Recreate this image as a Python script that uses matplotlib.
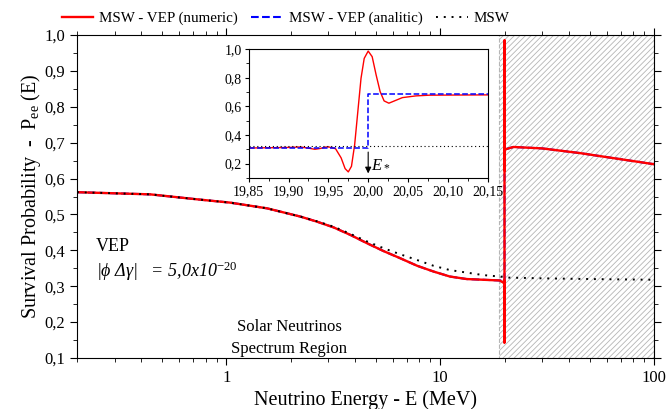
import numpy as np
import matplotlib
matplotlib.use("Agg")
import matplotlib.pyplot as plt
from matplotlib.ticker import FuncFormatter, MultipleLocator, FixedLocator, LogLocator

plt.rcParams['font.family'] = ['Liberation Serif', 'DejaVu Serif']
plt.rcParams['mathtext.fontset'] = 'custom'
plt.rcParams['mathtext.rm'] = 'Liberation Serif'
plt.rcParams['mathtext.it'] = 'Liberation Serif:italic'
plt.rcParams['hatch.linewidth'] = 0.6

# --- main panel data (E in MeV) ---
low_E = [0.2, 0.44, 0.76, 1.04, 1.55, 2.22, 2.65, 3.17, 3.8, 4.54, 5.43, 6.5, 7.8,
         9.3, 11.1, 13.3, 15.9, 19.0]
low_pee = [0.562, 0.556, 0.541, 0.533, 0.517, 0.494, 0.480, 0.464, 0.443, 0.420, 0.398,
           0.378, 0.357, 0.341, 0.327, 0.320, 0.318, 0.316]

high_E = [20.3, 22.0, 30.0, 45.0, 64.5, 100.0]
high_pee = [0.682, 0.688, 0.684, 0.671, 0.657, 0.640]

msw_E = [0.2, 0.44, 0.76, 1.04, 1.55, 2.22, 2.65, 3.17, 3.8, 4.54, 5.43, 6.5, 7.8,
         9.3, 11.1, 13.3, 15.9, 19.0, 21.0, 30.0, 50.0, 100.0]
msw_pee = [0.562, 0.556, 0.541, 0.533, 0.517, 0.494, 0.481, 0.466, 0.446, 0.425, 0.406,
           0.389, 0.373, 0.357, 0.345, 0.338, 0.331, 0.327, 0.324, 0.322, 0.320, 0.318]

# --- inset data, around the resonance E* = 20 MeV ---
ins_E = [19.85, 19.88, 19.90, 19.915, 19.925, 19.933, 19.94, 19.947, 19.951, 19.959,
         19.966, 19.971, 19.975, 19.979, 19.983, 19.987, 19.991, 19.995, 20.000, 20.005,
         20.010, 20.015, 20.020, 20.026, 20.033, 20.043, 20.060, 20.077, 20.11, 20.15]
ins_pee = [0.309, 0.311, 0.313, 0.316, 0.308, 0.300, 0.306, 0.316, 0.316, 0.304,
           0.240, 0.165, 0.142, 0.181, 0.332, 0.564, 0.796, 0.935, 0.986, 0.947,
           0.819, 0.703, 0.638, 0.622, 0.638, 0.661, 0.673, 0.678, 0.679, 0.680]

ana_E = [19.85, 20.0, 20.0, 20.15]
ana_pee = [0.309, 0.309, 0.685, 0.685]
msw_flat = 0.326
E_star = 20.0
region_E = (18.8, 100.0)

comma = FuncFormatter(lambda v, _: f'{v:.1f}'.replace('.', ','))
comma2 = FuncFormatter(lambda v, _: f'{v:.2f}'.replace('.', ','))

fig = plt.figure(figsize=(6.67, 4.09), dpi=100)
ax = fig.add_axes([0.1154, 0.1247, 0.8651, 0.7897])

ax.axvspan(region_E[0], region_E[1], ymin=0, ymax=1, facecolor='none',
           edgecolor='#b5b5b5', hatch='//////', linestyle='--', linewidth=0.8, zorder=0)

num_E = low_E + ins_E + high_E
num_pee = low_pee + ins_pee + high_pee
ana_main_E = low_E + ana_E[1:3] + high_E
ana_main_pee = low_pee + [0.315, 0.68] + high_pee

ax.plot(ana_main_E, ana_main_pee, color='blue', ls='--', lw=1.5, label='MSW - VEP (analitic)')
ax.plot(num_E, num_pee, color='red', lw=1.7, label='MSW - VEP (numeric)')
ax.plot(msw_E, msw_pee, color='black', ls=(0, (1, 3)), lw=1.4, label='MSW')

ax.set_xscale('log')
ax.set_xlim(0.2, 100)
ax.set_ylim(0.1, 1.0)
ax.xaxis.set_major_locator(FixedLocator([1, 10, 100]))
ax.xaxis.set_major_formatter(FuncFormatter(lambda v, _: f'{v:g}'))
ax.xaxis.set_minor_locator(LogLocator(base=10, subs=np.arange(2, 10)))
ax.xaxis.set_minor_formatter(FuncFormatter(lambda v, _: ''))
ax.yaxis.set_major_locator(MultipleLocator(0.1))
ax.yaxis.set_minor_locator(MultipleLocator(0.05))
ax.yaxis.set_major_formatter(comma)
ax.tick_params(which='both', direction='out', top=True, right=True, labelsize=12)
ax.tick_params(which='major', length=5)
ax.tick_params(which='minor', length=3)

ax.set_xlabel('Neutrino Energy - E (MeV)', fontsize=14.5, labelpad=3)
ax.set_ylabel(r'Survival Probability  -  P$_{\rm ee}$ (E)', fontsize=14.5, labelpad=1)

ax.text(0.245, 0.410, 'VEP', fontsize=13, va='center')
ax.text(0.245, 0.342, '|ϕ Δγ|   = 5,0x10' + r'$^{\mathit{-20}}$', fontsize=13,
        style='italic', va='center')
ax.text(1.97, 0.185, 'Solar Neutrinos', fontsize=12, ha='center', va='center')
ax.text(1.97, 0.125, 'Spectrum Region', fontsize=12, ha='center', va='center')

handles, labels = ax.get_legend_handles_labels()
order = [1, 0, 2]
fig.legend([handles[i] for i in order], [labels[i] for i in order],
           loc='center left', bbox_to_anchor=(0.072, 0.955), ncol=3, frameon=False,
           fontsize=10.8, handlelength=2.1, columnspacing=0.9, handletextpad=0.4)

# --- inset ---
ins = fig.add_axes([0.373, 0.565, 0.358, 0.315])
ins.plot(ins_E, ins_pee, color='red', lw=1.0)
ins.plot(ana_E, ana_pee, color='blue', ls='--', lw=1.1)
ins.axhline(msw_flat, color='black', ls=(0, (1, 2.5)), lw=0.8)
ins.annotate('', xy=(E_star, 0.112), xytext=(E_star, 0.30),
             arrowprops=dict(arrowstyle='-|>', color='black', lw=0.8, mutation_scale=9))
ins.text(E_star + 0.004, 0.2, r'$E_*$', fontsize=12, va='center')
ins.set_xlim(19.85, 20.15)
ins.set_ylim(0.1, 1.0)
ins.xaxis.set_major_locator(MultipleLocator(0.05))
ins.xaxis.set_minor_locator(MultipleLocator(0.025))
ins.xaxis.set_major_formatter(comma2)
ins.yaxis.set_major_locator(MultipleLocator(0.2))
ins.yaxis.set_minor_locator(MultipleLocator(0.1))
ins.yaxis.set_major_formatter(comma)
ins.tick_params(which='both', direction='out', labelsize=10, pad=2)
ins.tick_params(which='major', length=3)
ins.tick_params(which='minor', length=2)

fig.savefig('out.png', dpi=100)
